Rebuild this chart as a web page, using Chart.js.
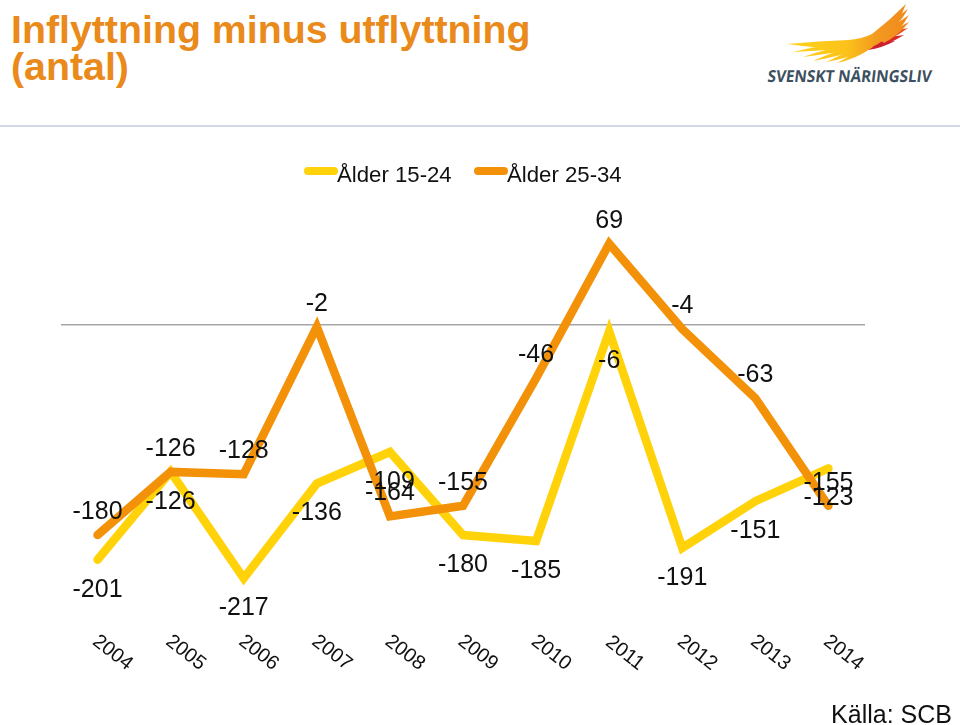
<!DOCTYPE html>
<html lang="sv">
<head>
<meta charset="utf-8">
<title>Inflyttning minus utflyttning</title>
<script src="https://cdn.jsdelivr.net/npm/chart.js@4/dist/chart.umd.min.js"></script>
<style>
  html, body { margin: 0; padding: 0; background: #fff; }
  #page { position: relative; width: 960px; height: 725px; overflow: hidden; font-family: "Liberation Sans", Arial, sans-serif; }
  #chart { position: absolute; left: 0; top: 0; }
  h1 { position: absolute; left: 11px; top: 10.5px; margin: 0; font-size: 39.3px; line-height: 37px; font-weight: bold; color: #e98a1b; white-space: nowrap; }
  #rule { position: absolute; left: 0; top: 125px; width: 960px; height: 2px; background: #cfd8e3; }
  #source { position: absolute; right: 8px; top: 700px; font-size: 25px; line-height: 29px; color: #111; }
  #logo { position: absolute; left: 760px; top: 0; }
</style>
</head>
<body>
<div id="page">
  <h1>Inflyttning minus utflyttning<br>(antal)</h1>
  <svg id="logo" width="200" height="90" viewBox="760 0 200 90">
    <defs>
      <linearGradient id="wing" x1="787" y1="0" x2="906" y2="0" gradientUnits="userSpaceOnUse">
        <stop offset="0" stop-color="#ffd21a"/>
        <stop offset="0.5" stop-color="#fcc21a"/>
        <stop offset="0.75" stop-color="#f39a1f"/>
        <stop offset="1" stop-color="#ef8a1d"/>
      </linearGradient>
    </defs>
    <path fill="#ea4a1f" d="M908 28 Q888 31 866 42 L870 47 Q892 40 908 28 Z"/>
    <path fill="#d92a2a" d="M904 35 Q885 37 866 44 L870 49 Q888 45 904 35 Z"/>
    <path fill="#cf2030" d="M895 41 Q880 41 864 46 L868 50 Q882 48 895 41 Z"/>
    <path fill="url(#wing)" d="M787 44 Q820 41 848 40 Q862 39 872 34 Q890 20 906 4 Q899 22 888 36 Q878 46 866 49 L840 49 Q815 48 787 44 Z"/>
    <path fill="url(#wing)" d="M793 52 Q815 46 838 45 L840 49 Q815 51 793 52 Z"/>
    <path fill="url(#wing)" d="M803 57 Q825 49 850 45 L852 50 Q825 54 803 57 Z"/>
    <path fill="url(#wing)" d="M813 61 Q835 51 856 45 L859 50 Q835 57 813 61 Z"/>
    <path fill="url(#wing)" d="M826 62 Q845 53 862 45 L866 50 Q845 59 826 62 Z"/>
    <path fill="url(#wing)" d="M837 63 Q852 55 868 43 L873 47 Q856 59 837 63 Z"/>
    <path fill="url(#wing)" d="M908 9 Q892 20 878 32 L885 37 Q899 25 908 9 Z"/>
    <path fill="url(#wing)" d="M909 15 Q895 25 880 35 L887 39 Q900 31 909 15 Z"/>
    <path fill="url(#wing)" d="M909 22 Q895 29 878 38 L884 43 Q899 35 909 22 Z"/>
    <text transform="translate(767 82) skewX(-7)" textLength="164" lengthAdjust="spacingAndGlyphs" font-family="Open Sans, sans-serif" font-weight="700" font-size="16.5" fill="#3c5060">SVENSKT NÄRINGSLIV</text>
  </svg>
  <div id="rule"></div>
  <canvas id="chart" width="960" height="725"></canvas>
  <div id="source">Källa: SCB</div>
</div>
<script>
const years = ['2004', '2005', '2006', '2007', '2008', '2009', '2010', '2011', '2012', '2013', '2014'];
const age1524 = [-201, -126, -217, -136, -109, -180, -185, -6, -191, -151, -123];
const age2534 = [-180, -126, -128, -2, -164, -155, -46, 69, -4, -63, -155];

const FONT = '"Liberation Sans", Arial, sans-serif';

// value labels: yellow series sits below its points, orange above
const valueLabels = {
  id: 'valueLabels',
  afterDatasetsDraw(chart) {
    const ctx = chart.ctx;
    ctx.save();
    ctx.font = '25px ' + FONT;
    ctx.fillStyle = '#111';
    ctx.textAlign = 'center';
    ctx.textBaseline = 'middle';
    chart.data.datasets.forEach((ds, i) => {
      const shift = i === 0 ? 30 : -23;
      chart.getDatasetMeta(i).data.forEach((pt, j) => {
        ctx.fillText(String(ds.data[j]), pt.x, pt.y + shift);
      });
    });
    ctx.restore();
  }
};

// legend text overlaps the end of its swatch, which the built-in legend can't do
const overlapLegend = {
  id: 'overlapLegend',
  afterDraw(chart) {
    const ctx = chart.ctx;
    const startX = [308, 478];
    ctx.save();
    ctx.font = '22.2px ' + FONT;
    ctx.textBaseline = 'middle';
    chart.data.datasets.forEach((ds, i) => {
      ctx.strokeStyle = ds.borderColor;
      ctx.lineWidth = 8;
      ctx.lineCap = 'round';
      ctx.beginPath();
      ctx.moveTo(startX[i], 171);
      ctx.lineTo(startX[i] + 26, 171);
      ctx.stroke();
      ctx.fillStyle = '#111';
      ctx.fillText(ds.label, startX[i] + 29, 175.5);
    });
    ctx.restore();
  }
};

new Chart(document.getElementById('chart'), {
  type: 'line',
  data: {
    labels: years,
    datasets: [
      { label: 'Ålder 15-24', data: age1524, borderColor: '#ffd20a', order: 2 },
      { label: 'Ålder 25-34', data: age2534, borderColor: '#f39208', order: 1 }
    ]
  },
  options: {
    responsive: false,
    animation: false,
    layout: { padding: { left: 61, right: 95, top: 207.4, bottom: 0 } },
    elements: {
      line: { borderWidth: 8.5, tension: 0, borderCapStyle: 'round', borderJoinStyle: 'miter' },
      point: { radius: 0 }
    },
    plugins: { legend: { display: false }, tooltip: { enabled: false } },
    scales: {
      x: {
        offset: true,
        border: { display: false },
        grid: { display: false },
        afterFit: s => { s.height = 108; s.paddingLeft = 0; s.paddingRight = 0; },
        ticks: {
          autoSkip: false,
          minRotation: -38,
          maxRotation: -38,
          labelOffset: 32.5,
          padding: 32,
          color: '#111',
          font: { family: FONT, size: 20 }
        }
      },
      y: {
        min: -250,
        max: 100,
        border: { display: false },
        afterFit: s => { s.width = 0; },
        ticks: { display: false, stepSize: 50 },
        grid: {
          drawTicks: false,
          color: c => (c.tick.value === 0 ? '#a6a6a6' : 'transparent'),
          lineWidth: 1.5
        }
      }
    }
  },
  plugins: [valueLabels, overlapLegend]
});
</script>
</body>
</html>
